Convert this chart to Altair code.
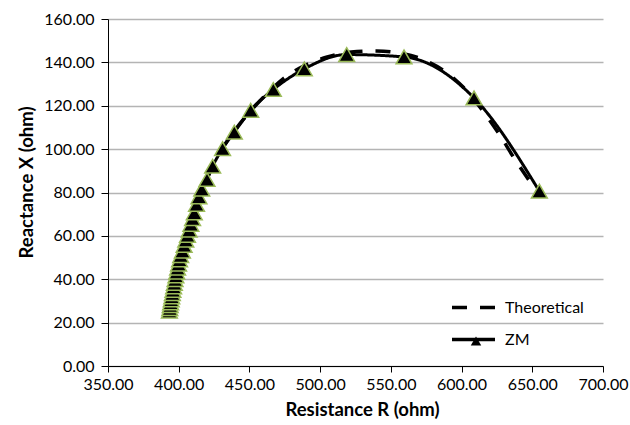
import altair as alt
import pandas as pd

# ZM measured points (Resistance R, Reactance X)
zm_r = [393.4, 393.7, 394.0, 394.3, 394.7, 395.1, 395.5, 395.9, 396.4, 396.9,
        397.4, 398.0, 398.6, 399.2, 399.9, 400.6, 401.4, 402.6, 403.8, 405.0,
        406.2, 407.4, 408.6, 409.8, 411.0, 412.6, 414.3, 416.3, 420.0, 424.0,
        431.0, 439.3, 450.9, 466.9, 488.8, 518.8, 559.3, 608.8, 655.0]
zm_x = [25.3, 26.5, 27.8, 29.1, 30.5, 31.9, 33.4, 34.9, 36.5, 38.1,
        39.8, 41.5, 43.3, 45.1, 47.0, 48.9, 50.9, 53.0, 55.6, 58.0,
        60.2, 62.6, 65.3, 67.9, 70.6, 74.5, 78.0, 81.5, 86.0, 92.1,
        100.2, 107.8, 117.9, 127.5, 137.0, 143.6, 142.5, 123.6, 80.6]

# Theoretical curve
th_r = [393.2, 394.4, 396.6, 399.4, 403.4, 407.2, 410.5, 413.6, 418.5, 423.8,
        430.5, 439.5, 450.0, 461.5, 474.0, 489.0, 505.0, 522.0, 540.0, 557.0,
        574.0, 589.0, 602.0, 614.0, 626.0, 638.0, 649.0, 656.0]
th_x = [25.0, 32.0, 40.0, 48.0, 55.5, 62.5, 69.5, 76.5, 84.0, 92.0,
        100.0, 108.5, 117.0, 125.0, 132.5, 138.5, 142.5, 144.8, 145.3, 144.2,
        141.0, 135.5, 128.0, 118.5, 107.5, 95.0, 84.5, 78.5]

x_ticks = [350, 400, 450, 500, 550, 600, 650, 700]
y_ticks = [0, 20, 40, 60, 80, 100, 120, 140, 160]
series_names = ["Theoretical", "ZM"]

zm = pd.DataFrame({"R": zm_r, "X": zm_x, "series": "ZM", "i": list(range(len(zm_r)))})
th = pd.DataFrame({"R": th_r, "X": th_x, "series": "Theoretical", "i": list(range(len(th_r)))})

FONT = "Lato"

xs = alt.Scale(domain=[350, 700], nice=False, zero=False)
ys = alt.Scale(domain=[0, 160], nice=False, zero=False)

xaxis = alt.Axis(title="Resistance R (ohm)", values=x_ticks, format=".2f", grid=False,
                 tickSize=6, labelPadding=4, labelFlush=False, labelOverlap=False,
                 titleX=254, titleY=43, titleBaseline="middle", titleAlign="center")
yaxis = alt.Axis(title="Reactance X (ohm)", values=y_ticks, format=".2f", grid=True,
                 gridColor="#b4b4b4", gridWidth=1.5, tickSize=7, labelPadding=7,
                 labelFlush=False, labelOverlap=False,
                 titleX=-82, titleY=163, titleAngle=-90,
                 titleBaseline="middle", titleAlign="center")

X = alt.X("R:Q", scale=xs, axis=xaxis)
Y = alt.Y("X:Q", scale=ys, axis=yaxis)

dash_scale = alt.Scale(domain=series_names, range=[[15, 13], [1, 0]])
dash_legend = alt.Legend(title=None, orient="none", legendX=342, legendY=265,
                         symbolType="stroke", symbolSize=1849, symbolStrokeWidth=3.5,
                         symbolStrokeColor="black", labelFont=FONT, labelFontSize=16,
                         labelColor="black", labelOffset=8, rowPadding=-14,
                         padding=0, symbolOffset=0)

theo = alt.Chart(th).mark_line(color="black", strokeWidth=3.5, interpolate="monotone").encode(
    x=X, y=Y, order="i:Q",
    strokeDash=alt.StrokeDash("series:N", scale=dash_scale, legend=dash_legend),
)
zmline = alt.Chart(zm).mark_line(color="black", strokeWidth=3, interpolate="monotone").encode(
    x=X, y=Y, order="i:Q",
    strokeDash=alt.StrokeDash("series:N", scale=dash_scale, legend=dash_legend),
)
shape_legend = alt.Legend(title=None, orient="none", legendX=362, legendY=316,
                          symbolSize=110, symbolFillColor="black",
                          symbolStrokeColor="#9BBB59", symbolStrokeWidth=1.5,
                          labelOpacity=0, labelFontSize=10, padding=0, symbolOffset=0)
zmpts = alt.Chart(zm).mark_point(filled=True, fill="black", stroke="#9BBB59",
                                 strokeWidth=1.5, size=250, opacity=1,
                                 fillOpacity=1, strokeOpacity=1).encode(
    x=X, y=Y,
    shape=alt.Shape("series:N", scale=alt.Scale(domain=["ZM"], range=["triangle-up"]),
                    legend=shape_legend),
)

chart = alt.layer(theo, zmline, zmpts).properties(
    width=495, height=347,
    padding={"left": 108, "top": 19, "right": 27, "bottom": 59},
    autosize=alt.AutoSizeParams(type="none"),
).configure_view(stroke=None).configure_axis(
    domainColor="black", domainWidth=1, tickColor="black", tickWidth=1,
    labelFont=FONT, labelFontSize=16, labelColor="black",
    titleFont=FONT, titleFontSize=18.5, titleFontWeight="bold", titleColor="black",
)

chart.save("out.html", embed_options={"renderer": "svg", "actions": False})
